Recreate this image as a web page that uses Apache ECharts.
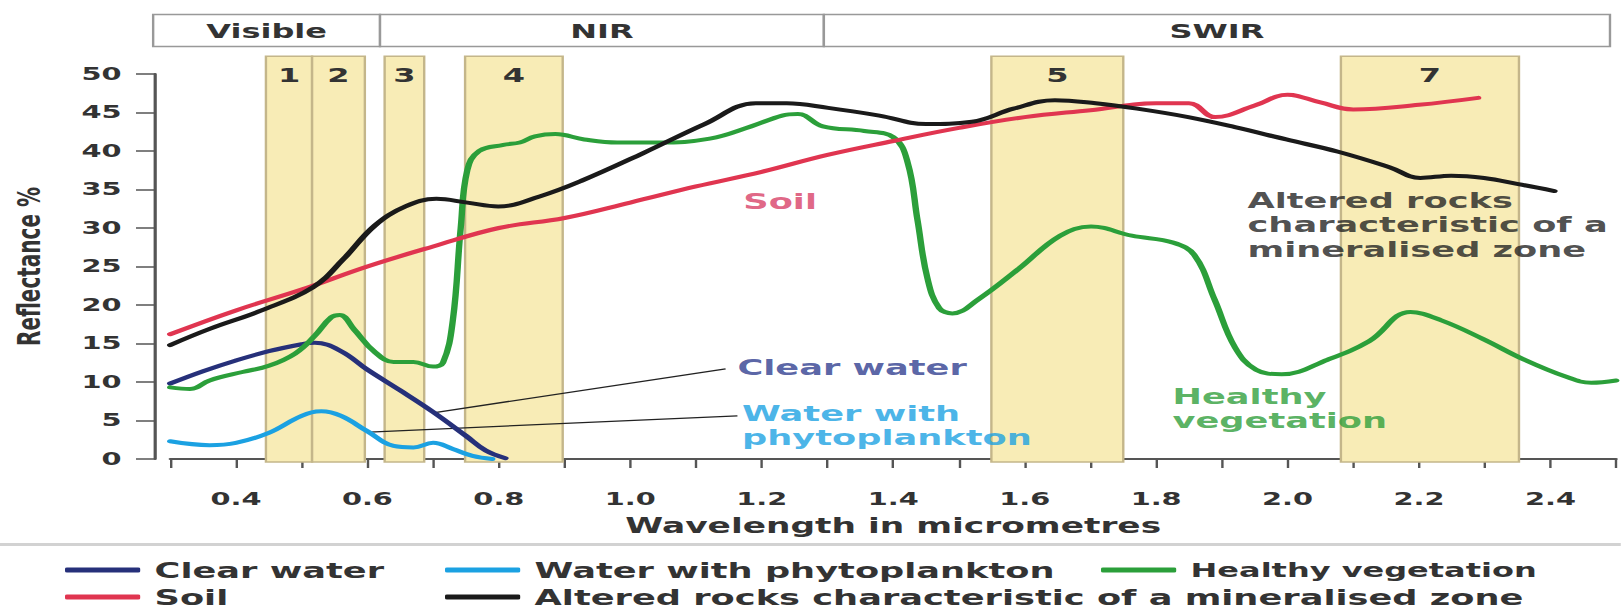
<!DOCTYPE html>
<html><head><meta charset="utf-8">
<script src="https://cdn.jsdelivr.net/npm/echarts@6/dist/echarts.min.js"></script>
<style>
html,body{margin:0;padding:0;background:#fff;overflow:hidden}
#wrap{width:1621px;height:615px;overflow:hidden;position:relative;background:#fff}
#c{position:absolute;left:0;top:0;height:615px;transform-origin:0 0}
</style></head><body><div id="wrap"><div id="c"></div></div>
<script>
// ---- data ----
const regionNames = ['Visible', 'NIR', 'SWIR'];
const regionFrom = [0.279, 0.623, 1.296];
const regionTo = [0.623, 1.296, 2.488];

const bandNames = ['1', '2', '3', '4', '5', '7'];
const bandFrom = [0.45, 0.52, 0.63, 0.752, 1.55, 2.08];
const bandTo = [0.52, 0.60, 0.69, 0.90, 1.75, 2.35];

const seriesNames = ['Clear water', 'Water with phytoplankton', 'Healthy vegetation', 'Soil',
  'Altered rocks characteristic of a mineralised zone'];

const clearWater = [[0.3, 9.8], [0.35, 11.4], [0.4, 12.8], [0.45, 14.0], [0.5, 14.9], [0.52, 15.1],
  [0.56, 14.0], [0.6, 11.6], [0.65, 8.9], [0.7, 6.1], [0.75, 3.0], [0.78, 1.1], [0.81, 0.1]];

const phytoWater = [[0.3, 2.3], [0.36, 1.8], [0.4, 2.1], [0.45, 3.4], [0.5, 5.6], [0.53, 6.2],
  [0.56, 5.6], [0.6, 3.6], [0.64, 1.7], [0.67, 1.5], [0.7, 2.1], [0.73, 1.3], [0.76, 0.4], [0.79, 0.0]];

const vegetation = [[0.30, 9.3], [0.33, 9.1], [0.36, 10.2], [0.41, 11.3], [0.45, 12.1], [0.49, 13.7],
  [0.52, 16.0], [0.545, 18.4], [0.558, 18.7], [0.58, 16.8], [0.61, 14.0], [0.64, 12.6], [0.67, 12.6],
  [0.70, 12.0], [0.715, 12.5], [0.73, 18.0], [0.742, 30.0], [0.752, 37.5], [0.77, 40.0],
  [0.807, 40.8], [0.832, 41.1], [0.855, 41.9], [0.886, 42.2], [0.93, 41.5], [0.98, 41.1], [1.043, 41.1],
  [1.121, 41.6], [1.184, 43.2], [1.231, 44.6], [1.255, 44.8], [1.293, 43.2], [1.356, 42.6], [1.40, 41.8],
  [1.422, 38.5], [1.437, 31.0], [1.452, 23.5], [1.47, 19.6], [1.49, 18.9], [1.529, 20.7], [1.591, 24.7],
  [1.654, 29.0], [1.701, 30.2], [1.763, 29.0], [1.826, 28.1], [1.858, 26.5], [1.889, 20.7], [1.92, 14.5],
  [1.952, 11.6], [1.991, 11.0], [2.061, 12.9], [2.124, 15.3], [2.187, 19.1], [2.234, 18.0], [2.297, 15.6],
  [2.36, 12.9], [2.423, 10.7], [2.462, 9.9], [2.5, 10.2]];

const soil = [[0.3, 16.2], [0.4, 19.3], [0.5, 22.0], [0.6, 25.0], [0.7, 27.6], [0.8, 30.0], [0.9, 31.3],
  [1.0, 33.3], [1.1, 35.4], [1.2, 37.3], [1.3, 39.5], [1.4, 41.3], [1.5, 43.0], [1.6, 44.4], [1.7, 45.3],
  [1.8, 46.2], [1.85, 46.2], [1.89, 44.4], [1.95, 45.9], [2.0, 47.3], [2.05, 46.3], [2.1, 45.4],
  [2.2, 46.0], [2.29, 46.9]];

const alteredRocks = [[0.3, 14.8], [0.36, 16.9], [0.439, 19.3], [0.517, 22.3], [0.564, 26.0], [0.611, 30.3],
  [0.658, 32.8], [0.705, 33.8], [0.752, 33.3], [0.799, 32.8], [0.862, 34.1], [0.925, 36.1], [1.019, 39.7],
  [1.113, 43.5], [1.191, 46.2], [1.238, 46.2], [1.301, 45.6], [1.379, 44.6], [1.45, 43.5], [1.52, 43.8],
  [1.583, 45.5], [1.646, 46.6], [1.708, 46.2], [1.771, 45.5], [1.849, 44.4], [1.92, 43.1], [1.998, 41.5],
  [2.077, 39.9], [2.155, 37.9], [2.202, 36.5], [2.249, 36.8], [2.299, 36.5], [2.351, 35.7], [2.406, 34.8]];

const seriesColors = ['#26307a', '#1ba1e2', '#2b9f3a', '#e03550', '#1a1a1a'];

const annotTexts = ['Soil', 'Clear water', 'Water with\nphytoplankton', 'Healthy\nvegetation',
  'Altered rocks\ncharacteristic of a\nmineralised zone'];
const annotAt = [[1.172, 33.4], [1.163, 11.9], [1.170, 4.35], [1.825, 6.56], [1.939, 30.4]];
const annotColors = ['#d83e66', '#2f3d8f', '#1ba1e2', '#2f9e3a', '#222222'];
const annotSizes = [22, 22, 22, 22, 22];

const leaderLines = [[[1.145, 11.7], [0.70, 6.0]], [[1.163, 5.6], [0.603, 3.5]]];

// ---- layout (reference pixels; the picture is horizontally stretched by S) ----
const S = 1.6;
const W = 1621 / S;
const X0 = 167, PXU = 659.5, Y0 = 459, PXP = 7.7;
const el = document.getElementById('c');
el.style.width = W + 'px';
el.style.transform = 'scaleX(' + S + ')';

const FONT = 'DejaVu Sans';
const txt = (size, color) => ({ fontFamily: FONT, fontWeight: 'bold', fontSize: size, color: color || '#333' });

const rightPx = (1621 - (X0 + 2.2 * PXU)) / S;

const chart = echarts.init(el, null, { renderer: 'svg', width: W, height: 615 });

const bandAreas = bandNames.map((n, i) => [
  { name: n, xAxis: bandFrom[i], yAxis: -0.4 }, { xAxis: bandTo[i], yAxis: 52.3 }]);
const regionAreas = regionNames.map((n, i) => [
  { name: n, xAxis: regionFrom[i], yAxis: 0 }, { xAxis: regionTo[i], yAxis: 1 }]);

const lineSeries = [clearWater, phytoWater, vegetation, soil, alteredRocks].map((d, i) => ({
  name: seriesNames[i], type: 'line', data: d, xAxisIndex: 0, yAxisIndex: 0,
  showSymbol: false, symbol: 'none', smooth: 0.4,
  lineStyle: { color: seriesColors[i], width: 4, cap: 'round', join: 'round' }, itemStyle: { color: seriesColors[i] },
  z: 5, silent: true
}));

const legendPos = [[65, 559], [445, 559], [1101, 560], [65, 586], [445, 586]];
const legendSizes = [22, 22, 20, 22, 22];

const option = {
  animation: false,
  backgroundColor: '#fff',
  grid: [
    { left: X0 / S, right: rightPx, top: Y0 - 50 * PXP, bottom: 615 - Y0 },
    { left: X0 / S, right: rightPx, top: Y0 - 52.3 * PXP, bottom: 615 - (Y0 + 0.4 * PXP) },
    { left: (X0 - 0.05 * PXU) / S, right: rightPx, top: 14.5, bottom: 615 - 46.5 }
  ],
  xAxis: [
    {
      type: 'value', gridIndex: 0, min: 0.3, max: 2.5, interval: 0.1, offset: 13,
      name: 'Wavelength in micrometres', nameLocation: 'middle', nameGap: 42,
      nameTextStyle: txt(21.5, '#333'),
      axisLine: { show: true, lineStyle: { color: '#555', width: 2 } },
      axisTick: { show: true, length: 9, lineStyle: { color: '#555', width: 1.5 } },
      axisLabel: Object.assign(txt(18, '#333'), {
        margin: 18, showMinLabel: true, showMaxLabel: true,
        formatter: v => { const t = Math.round(v * 10); return t % 2 === 0 ? (t / 10).toFixed(1) : ''; }
      }),
      splitLine: { show: false }
    },
    { type: 'value', gridIndex: 1, min: 0.3, max: 2.5, show: false },
    { type: 'value', gridIndex: 2, min: 0.25, max: 2.5, show: false }
  ],
  yAxis: [
    {
      type: 'value', gridIndex: 0, min: 0, max: 50, interval: 5, offset: 15 / S,
      name: 'Reflectance %', nameLocation: 'middle', nameGap: 69, nameRotate: 90,
      nameTextStyle: txt(20, '#333'),
      axisLine: { show: true, lineStyle: { color: '#555', width: 2 } },
      axisTick: { show: true, length: 12, lineStyle: { color: '#555', width: 1.5 } },
      axisLabel: Object.assign(txt(18, '#333'), { margin: 21 }),
      splitLine: { show: false }
    },
    { type: 'value', gridIndex: 1, min: -0.4, max: 52.3, show: false },
    { type: 'value', gridIndex: 2, min: 0, max: 1, show: false }
  ],
  legend: seriesNames.map((n, i) => ({
    data: [n], left: legendPos[i][0] / S, top: legendPos[i][1], padding: 0,
    icon: 'roundRect', itemWidth: 47, itemHeight: 5,
    textStyle: Object.assign(txt(legendSizes[i], '#333'), { padding: [0, 0, 0, 4] }),
    selectedMode: false
  })),
  graphic: [
    { type: 'rect', shape: { x: 0, y: 543, width: W, height: 3 }, style: { fill: '#d2d2d2' }, silent: true }
  ],
  series: [
    {
      type: 'line', xAxisIndex: 2, yAxisIndex: 2, data: [], silent: true, z: 1,
      markArea: {
        silent: true,
        itemStyle: { color: '#ffffff', borderColor: '#999', borderWidth: 1.5 },
        label: Object.assign(txt(20, '#333'), { show: true, position: 'inside' }),
        data: regionAreas
      }
    },
    {
      type: 'line', xAxisIndex: 1, yAxisIndex: 1, data: [], silent: true, z: 1,
      markArea: {
        silent: true,
        itemStyle: { color: '#f8ecb6', borderColor: '#c4b68a', borderWidth: 1.5 },
        label: Object.assign(txt(20, '#333'), { show: true, position: 'insideTop', distance: 9 }),
        data: bandAreas
      }
    },
    ...lineSeries,
    ...leaderLines.map(d => ({
      type: 'line', data: d, xAxisIndex: 0, yAxisIndex: 0, symbol: 'none', silent: true, z: 4,
      lineStyle: { color: '#222', width: 1.3 }
    })),
    {
      type: 'scatter', xAxisIndex: 0, yAxisIndex: 0, symbolSize: 0, silent: true, z: 6,
      data: annotTexts.map((t, i) => ({
        value: annotAt[i],
        label: Object.assign(txt(annotSizes[i], annotColors[i]), {
          show: true, position: 'right', distance: 0, align: 'left', lineHeight: 24.5, formatter: t
        })
      }))
    }
  ]
};
chart.setOption(option);
</script></body></html>
